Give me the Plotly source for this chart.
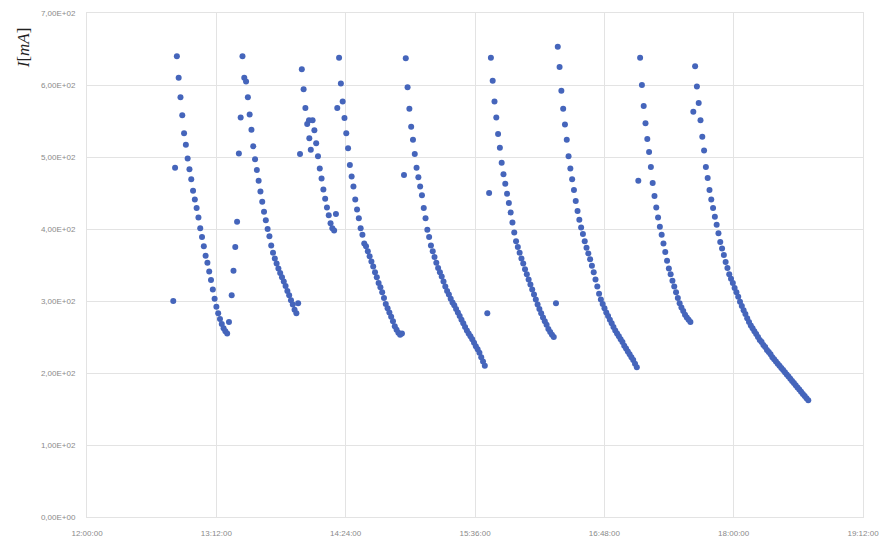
import numpy as np
import pandas as pd
import plotly.graph_objects as go

# Current log: one reading per minute, nine charge/discharge runs
DAY = "2000-01-01"
SAMPLE_STEP_MIN = 1.0

seg1_start = "12:48:02"
seg1_values = [300, 485, 640, 610, 583, 558, 533, 517, 498, 483, 469, 453, 441, 429,
               416, 401, 389, 376, 363, 353, 341, 329, 316, 303, 292, 283, 275, 268,
               262, 258, 255, 271]

seg2_start = "13:20:33"
seg2_values = [308, 342, 375, 410, 505, 555, 640, 610, 605, 583, 559, 538, 515, 497,
               482, 467, 452, 438, 424, 412, 400, 390, 377, 367, 359, 352, 345, 339,
               333, 327, 321, 314, 308, 301, 295, 288, 283, 297]

seg3_start = "13:58:35"
seg3_values = [504, 622, 594, 568, 546, 551, 510, 551, 537, 519, 501, 484, 470, 455,
               442, 430, 419, 408, 401, 398, 421]

seg4_start = "14:19:20"
seg4_values = [568, 638, 602, 577, 554, 533, 512, 489, 473, 459, 441, 427, 415, 401,
               392, 380, 376, 369, 362, 355, 348, 340, 333, 325, 319, 312, 304, 296,
               290, 284, 278, 272, 265, 260, 256, 253, 255]

seg5_start = "14:56:28"
seg5_values = [475, 637, 597, 567, 542, 524, 504, 485, 472, 459, 447, 429, 415, 399,
               389, 377, 369, 361, 353, 346, 340, 334, 327, 320, 314, 309, 303, 298,
               294, 289, 284, 279, 274, 269, 264, 259, 255, 251, 247, 242, 237, 233,
               228, 222, 216, 210]

seg6_start = "15:42:51"
seg6_values = [283, 450, 638, 606, 577, 555, 532, 513, 492, 476, 463, 449, 436, 423,
               409, 395, 383, 375, 367, 359, 352, 344, 337, 330, 323, 316, 309, 302,
               295, 289, 283, 277, 272, 267, 261, 257, 253, 250]

seg7_start = "16:21:05"
seg7_values = [297, 653, 625, 592, 567, 545, 524, 501, 484, 469, 454, 439, 425, 413,
               402, 393, 383, 374, 366, 358, 349, 340, 330, 320, 310, 302, 296, 290,
               284, 279, 274, 269, 264, 259, 255, 251, 247, 243, 238, 234, 230, 226,
               222, 218, 213, 208]

seg8_start = "17:06:55"
seg8_values = [467, 638, 600, 571, 547, 525, 507, 486, 464, 446, 430, 416, 403, 392,
               380, 368, 356, 345, 337, 328, 320, 312, 304, 297, 291, 286, 281, 277,
               274, 271]

seg9_start = "17:37:32"
seg9_values = [563, 626, 598, 575, 551, 528, 509, 486, 471, 454, 441, 429, 417, 406,
               394, 382, 373, 364, 354, 346, 337, 331, 325, 318, 312, 306, 299, 293,
               287, 282, 276, 271, 266, 262, 258, 254, 250, 246, 243, 239, 236, 232,
               229, 226, 222, 219, 216, 213, 210, 207, 204, 201, 198, 195, 192, 189,
               186, 183, 180, 177, 174, 171, 168, 165, 162]

# off-cadence reading
extra_times = ["14:03:46"]
extra_values = [526]

x_tick_times = ["12:00:00", "13:12:00", "14:24:00", "15:36:00", "16:48:00",
                "18:00:00", "19:12:00"]
y_tick_values = [0, 100, 200, 300, 400, 500, 600, 700]
y_tick_text = ["0,00E+00", "1,00E+02", "2,00E+02", "3,00E+02", "4,00E+02",
               "5,00E+02", "6,00E+02", "7,00E+02"]

segments = [
    (seg1_start, seg1_values), (seg2_start, seg2_values), (seg3_start, seg3_values),
    (seg4_start, seg4_values), (seg5_start, seg5_values), (seg6_start, seg6_values),
    (seg7_start, seg7_values), (seg8_start, seg8_values), (seg9_start, seg9_values),
]

times, currents = [], []
for start, vals in segments:
    t0 = pd.Timestamp(f"{DAY} {start}")
    ts = t0 + pd.to_timedelta(np.arange(len(vals)) * SAMPLE_STEP_MIN, unit="min")
    times.extend(ts)
    currents.extend(vals)
for t, v in zip(extra_times, extra_values):
    times.append(pd.Timestamp(f"{DAY} {t}"))
    currents.append(v)

x_ticks = [pd.Timestamp(f"{DAY} {t}") for t in x_tick_times]

fig = go.Figure(go.Scatter(
    x=times, y=currents, mode="markers",
    marker=dict(size=6, color="#4565bb"),
    showlegend=False,
))

grid = "#e3e3e3"
tickfont = dict(family="Liberation Sans", size=8, color="#8a8a8a")

fig.update_layout(
    width=887, height=546,
    margin=dict(l=87, r=24, t=13, b=29),
    paper_bgcolor="white", plot_bgcolor="white",
    xaxis=dict(
        type="date", range=[x_ticks[0], x_ticks[-1]],
        tickvals=x_ticks, ticktext=x_tick_times, automargin=False,
        showgrid=True, gridcolor=grid, gridwidth=1,
        showline=True, linecolor=grid, mirror=True,
        zeroline=False, ticks="", ticklabelstandoff=8, tickfont=tickfont,
    ),
    yaxis=dict(
        range=[0, 700], tickvals=y_tick_values, ticktext=y_tick_text,
        automargin=False,
        showgrid=True, gridcolor=grid, gridwidth=1,
        showline=True, linecolor=grid, mirror=True,
        zeroline=False, ticks="", ticklabelstandoff=9, tickfont=tickfont,
    ),
    annotations=[dict(
        text="<i>I</i>[<i>mA</i>]", textangle=-90,
        xref="paper", yref="paper", x=-0.0825, y=0.932,
        xanchor="center", yanchor="middle", showarrow=False,
        font=dict(family="Liberation Serif", size=17, color="#222222"),
    )],
)

fig.write_html("out.html")
